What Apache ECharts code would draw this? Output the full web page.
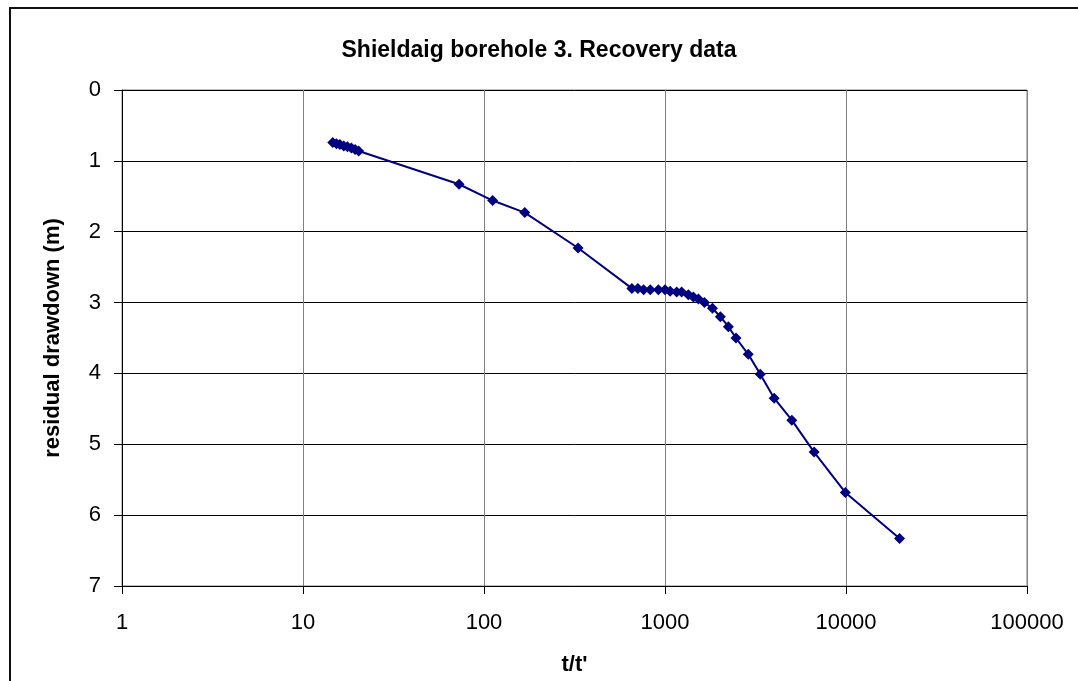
<!DOCTYPE html>
<html>
<head>
<meta charset="utf-8">
<script src="https://cdn.jsdelivr.net/npm/echarts@6/dist/echarts.min.js"></script>
<style>
html,body{margin:0;padding:0;background:#fff;}
#c{width:1078px;height:681px;}
</style>
</head>
<body>
<div id="c"></div>
<script>
var chartTitle = "Shieldaig borehole 3. Recovery data";
var xName = "t/t'";
var yName = "residual drawdown (m)";
var tOverT = [14.6, 15.3, 16.0, 16.8, 17.6, 18.5, 19.4, 20.3, 72.8, 111.6, 168, 331, 656, 708, 762, 829, 919, 1000, 1067, 1160, 1236, 1345, 1435, 1530, 1651, 1828, 2023, 2239, 2467, 2884, 3360, 4010, 5020, 6665, 9910, 19770];
var drawdown = [0.74, 0.76, 0.77, 0.79, 0.80, 0.82, 0.84, 0.86, 1.33, 1.56, 1.73, 2.23, 2.80, 2.80, 2.82, 2.82, 2.82, 2.82, 2.84, 2.85, 2.85, 2.89, 2.92, 2.95, 3.00, 3.08, 3.20, 3.34, 3.50, 3.73, 4.01, 4.35, 4.66, 5.11, 5.68, 6.33];

var pts = tOverT.map(function(t, i){ return [t, drawdown[i]]; });
var font = "'Liberation Sans', Arial, sans-serif";

var chart = echarts.init(document.getElementById('c'), null, {renderer:'canvas'});
chart.setOption({
  animation: false,
  backgroundColor: '#fff',
  title: {
    text: chartTitle,
    left: 'center',
    top: 34,
    textStyle: {fontFamily: font, fontSize: 23, fontWeight: 'bold', color: '#000'}
  },
  graphic: [{
    type: 'rect',
    shape: {x: 10, y: 8, width: 1200, height: 800},
    style: {fill: 'none', stroke: '#111', lineWidth: 2},
    silent: true
  }],
  grid: {
    left: 122, right: 51, top: 90, bottom: 95,
    show: true, borderColor: '#808080', borderWidth: 1
  },
  xAxis: {
    type: 'log', logBase: 10, min: 1, max: 100000,
    name: xName, nameLocation: 'middle', nameGap: 68,
    nameTextStyle: {fontFamily: font, fontSize: 22, fontWeight: 'bold', color: '#000'},
    axisLine: {show: true, onZero: false, lineStyle: {color: '#000', width: 1}},
    axisTick: {show: true, inside: false, length: 8, lineStyle: {color: '#000'}},
    minorTick: {show: false},
    axisLabel: {fontFamily: font, fontSize: 22, color: '#000', margin: 26,
      formatter: function(v){ return String(Math.round(v)); }},
    splitLine: {show: true, lineStyle: {color: '#808080', width: 1}}
  },
  yAxis: {
    type: 'value', inverse: true, min: 0, max: 7, interval: 1,
    name: yName, nameLocation: 'middle', nameGap: 58, nameRotate: 90,
    nameTextStyle: {fontFamily: font, fontSize: 22, fontWeight: 'bold', color: '#000'},
    axisLine: {show: true, onZero: false, lineStyle: {color: '#000', width: 1}},
    axisTick: {show: true, inside: false, length: 8, lineStyle: {color: '#000'}},
    axisLabel: {fontFamily: font, fontSize: 22, color: '#000', margin: 21},
    splitLine: {show: true, lineStyle: {color: '#000', width: 1}}
  },
  series: [{
    type: 'line',
    data: pts,
    symbol: 'diamond',
    symbolSize: 11,
    itemStyle: {color: '#000080'},
    lineStyle: {color: '#000080', width: 2},
    z: 5
  }]
});
</script>
</body>
</html>
